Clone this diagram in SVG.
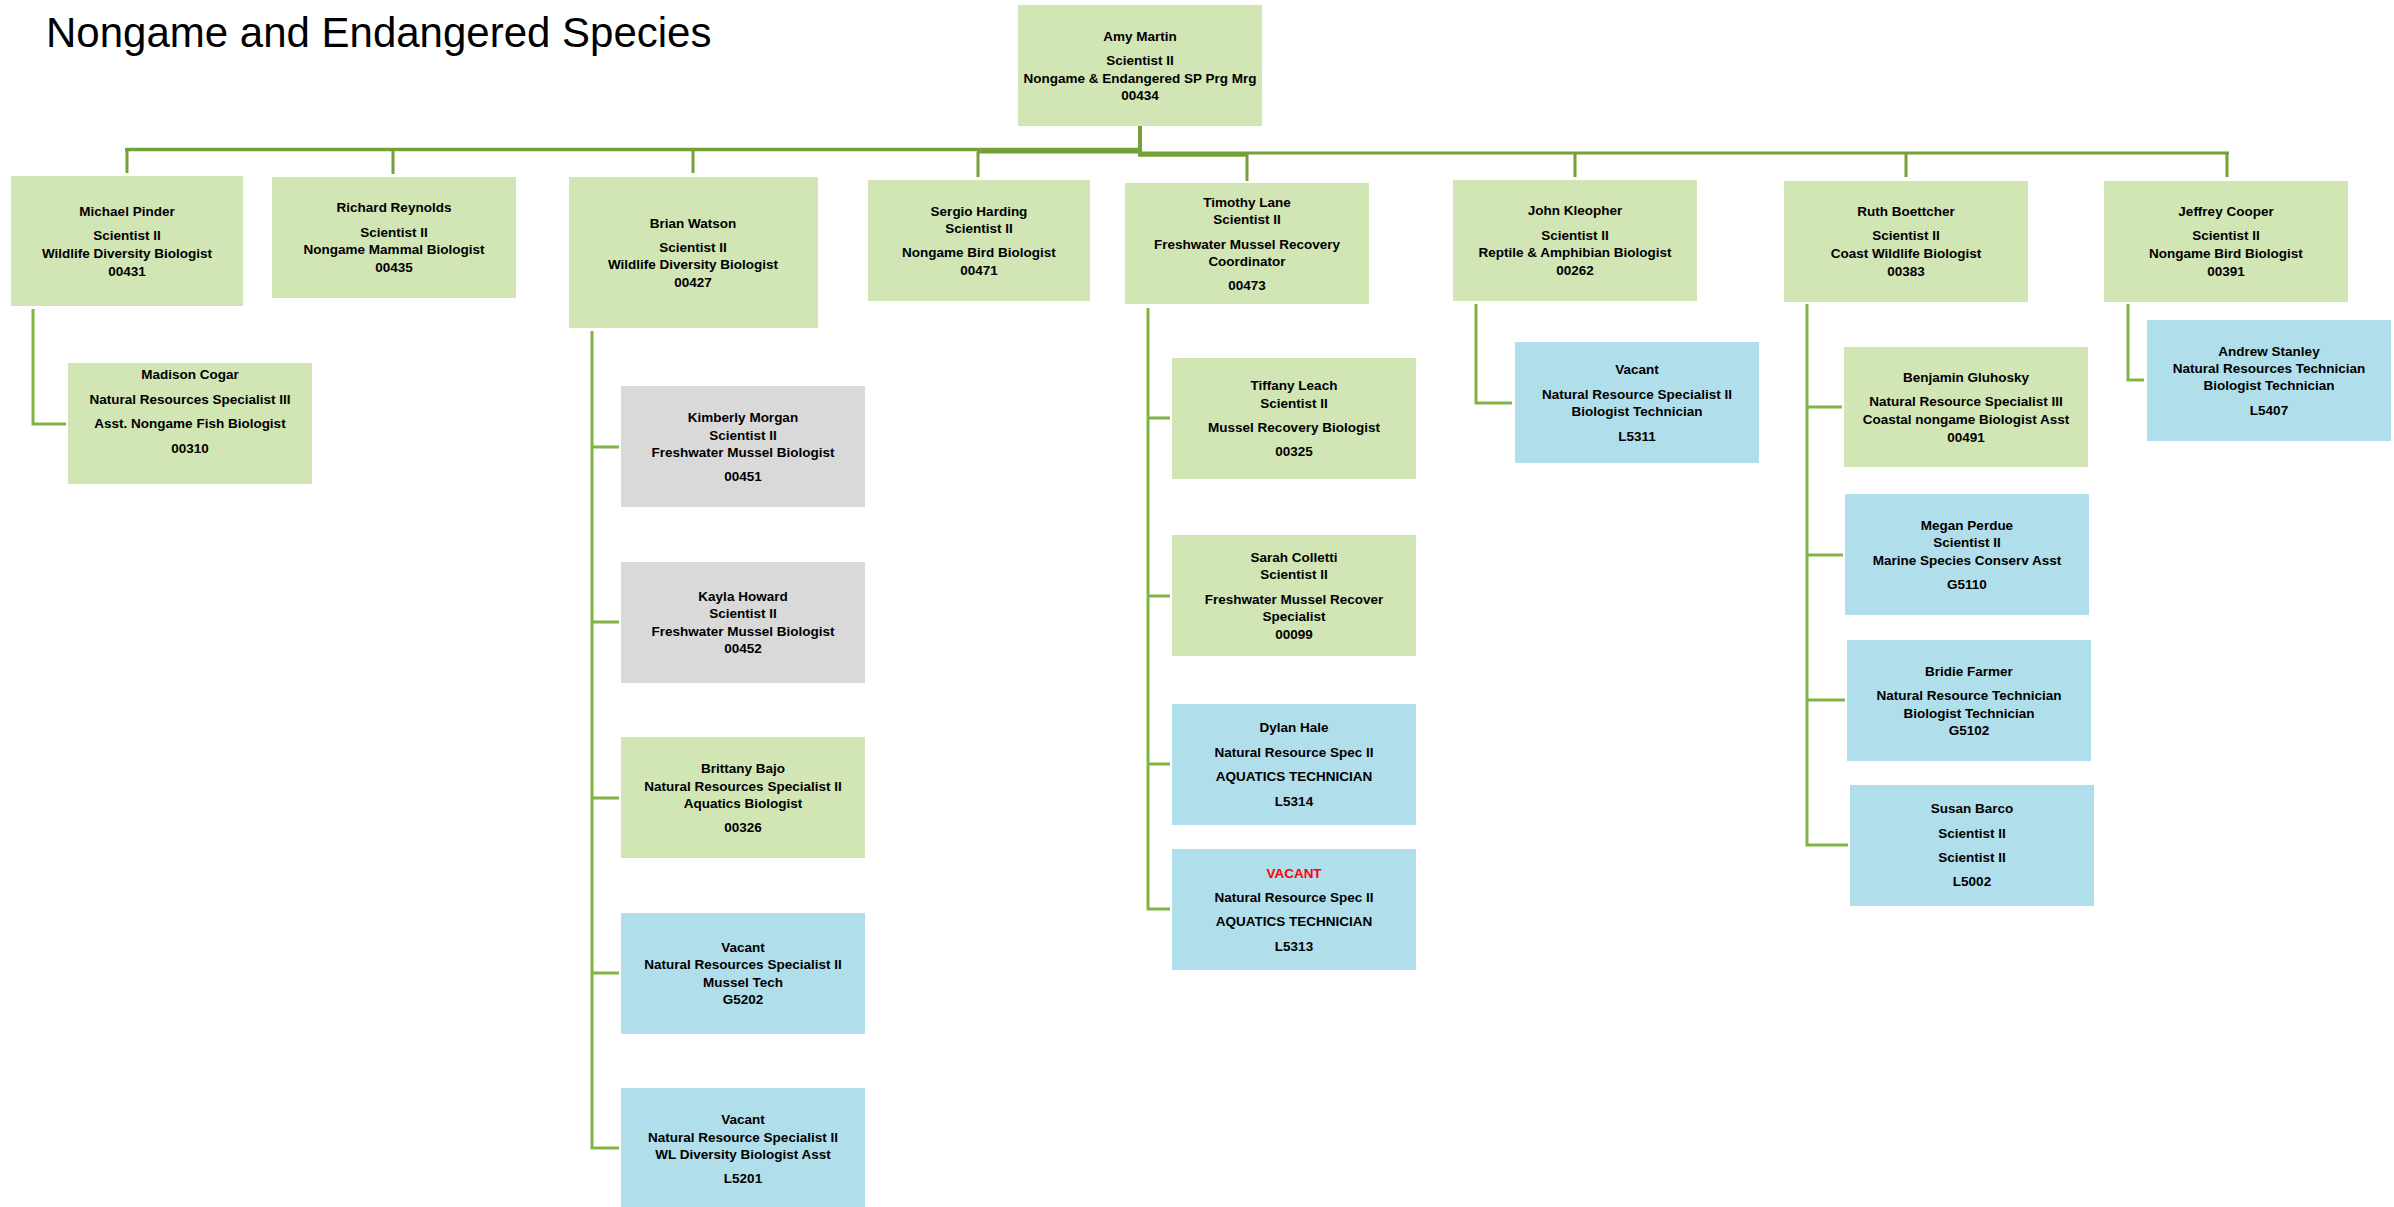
<svg xmlns="http://www.w3.org/2000/svg" width="2394" height="1207" viewBox="0 0 2394 1207">
<style>
.g{fill:#D2E5B5}
.b{fill:#B0DEEA}
.y{fill:#D9D9D9}
text{font-family:"Liberation Sans",Arial,sans-serif;font-weight:bold;font-size:13.5px;fill:#000;text-anchor:middle}
.title{font-weight:normal;font-size:42px;text-anchor:start}
.red{fill:#FF0000}
.bus{stroke:#74A037;fill:none}
.ch{stroke:#80B447;stroke-width:3;fill:none}
</style>
<rect width="2394" height="1207" fill="#FFFFFF"/>
<text class="title" x="46" y="47">Nongame and Endangered Species</text>

<g id="connectors">
<line class="bus" x1="1140" y1="126" x2="1140" y2="155" stroke-width="4"/>
<line class="bus" x1="125" y1="149.5" x2="1142" y2="149.5" stroke-width="3.5"/>
<line class="bus" x1="977" y1="152" x2="1140" y2="152" stroke-width="3"/>
<line class="bus" x1="1138" y1="154.5" x2="1248" y2="154.5" stroke-width="4.5"/>
<line class="bus" x1="1138" y1="153" x2="2229" y2="153" stroke-width="3"/>
<line class="bus" x1="127" y1="149" x2="127" y2="173" stroke-width="3"/>
<line class="bus" x1="393" y1="149" x2="393" y2="174" stroke-width="3"/>
<line class="bus" x1="693" y1="149" x2="693" y2="173" stroke-width="3"/>
<line class="bus" x1="978" y1="152" x2="978" y2="177" stroke-width="3"/>
<line class="bus" x1="1247" y1="154" x2="1247" y2="181" stroke-width="3"/>
<line class="bus" x1="1575" y1="153" x2="1575" y2="177" stroke-width="3"/>
<line class="bus" x1="1906" y1="153" x2="1906" y2="177" stroke-width="3"/>
<line class="bus" x1="2227" y1="153" x2="2227" y2="177" stroke-width="3"/>
<path class="ch" d="M33 309 V424 H66"/>
<path class="ch" d="M592 331 V1148 H619 M592 447 H619 M592 622 H619 M592 798 H619 M592 973 H619"/>
<path class="ch" d="M1148 308 V909 H1170 M1148 418 H1170 M1148 596 H1170 M1148 764 H1170"/>
<path class="ch" d="M1476 304 V403 H1512"/>
<path class="ch" d="M1807 304 V845 H1848 M1807 407 H1842 M1807 555 H1843 M1807 700 H1845"/>
<path class="ch" d="M2128 304 V380 H2144"/>
</g>

<g id="amy-martin"><rect class="g" x="1018" y="5" width="244" height="121"/>
<text x="1140" y="41">Amy Martin</text><text x="1140" y="65">Scientist II</text><text x="1140" y="83">Nongame &amp; Endangered SP Prg Mrg</text><text x="1140" y="100">00434</text></g>

<g id="michael-pinder"><rect class="g" x="11" y="176" width="232" height="130"/>
<text x="127" y="216">Michael Pinder</text><text x="127" y="240">Scientist II</text><text x="127" y="258">Wildlife Diversity Biologist</text><text x="127" y="276">00431</text></g>

<g id="richard-reynolds"><rect class="g" x="272" y="177" width="244" height="121"/>
<text x="394" y="212">Richard Reynolds</text><text x="394" y="237">Scientist II</text><text x="394" y="254">Nongame Mammal Biologist</text><text x="394" y="272">00435</text></g>

<g id="brian-watson"><rect class="g" x="569" y="177" width="249" height="151"/>
<text x="693" y="228">Brian Watson</text><text x="693" y="252">Scientist II</text><text x="693" y="269">Wildlife Diversity Biologist</text><text x="693" y="287">00427</text></g>

<g id="sergio-harding"><rect class="g" x="868" y="180" width="222" height="121"/>
<text x="979" y="216">Sergio Harding</text><text x="979" y="233">Scientist II</text><text x="979" y="257">Nongame Bird Biologist</text><text x="979" y="275">00471</text></g>

<g id="timothy-lane"><rect class="g" x="1125" y="183" width="244" height="121"/>
<text x="1247" y="207">Timothy Lane</text><text x="1247" y="224">Scientist II</text><text x="1247" y="249">Freshwater Mussel Recovery</text><text x="1247" y="266">Coordinator</text><text x="1247" y="290">00473</text></g>

<g id="john-kleopher"><rect class="g" x="1453" y="180" width="244" height="121"/>
<text x="1575" y="215">John Kleopher</text><text x="1575" y="240">Scientist II</text><text x="1575" y="257">Reptile &amp; Amphibian Biologist</text><text x="1575" y="275">00262</text></g>

<g id="ruth-boettcher"><rect class="g" x="1784" y="181" width="244" height="121"/>
<text x="1906" y="216">Ruth Boettcher</text><text x="1906" y="240">Scientist II</text><text x="1906" y="258">Coast Wildlife Biologist</text><text x="1906" y="276">00383</text></g>

<g id="jeffrey-cooper"><rect class="g" x="2104" y="181" width="244" height="121"/>
<text x="2226" y="216">Jeffrey Cooper</text><text x="2226" y="240">Scientist II</text><text x="2226" y="258">Nongame Bird Biologist</text><text x="2226" y="276">00391</text></g>

<g id="madison-cogar"><rect class="g" x="68" y="363" width="244" height="121"/>
<text x="190" y="379">Madison Cogar</text><text x="190" y="404">Natural Resources Specialist III</text><text x="190" y="428">Asst. Nongame Fish Biologist</text><text x="190" y="453">00310</text></g>

<g id="kimberly-morgan"><rect class="y" x="621" y="386" width="244" height="121"/>
<text x="743" y="422">Kimberly Morgan</text><text x="743" y="440">Scientist II</text><text x="743" y="457">Freshwater Mussel Biologist</text><text x="743" y="481">00451</text></g>

<g id="kayla-howard"><rect class="y" x="621" y="562" width="244" height="121"/>
<text x="743" y="601">Kayla Howard</text><text x="743" y="618">Scientist II</text><text x="743" y="636">Freshwater Mussel Biologist</text><text x="743" y="653">00452</text></g>

<g id="brittany-bajo"><rect class="g" x="621" y="737" width="244" height="121"/>
<text x="743" y="773">Brittany Bajo</text><text x="743" y="791">Natural Resources Specialist II</text><text x="743" y="808">Aquatics Biologist</text><text x="743" y="832">00326</text></g>

<g id="vacant-g5202"><rect class="b" x="621" y="913" width="244" height="121"/>
<text x="743" y="952">Vacant</text><text x="743" y="969">Natural Resources Specialist II</text><text x="743" y="987">Mussel Tech</text><text x="743" y="1004">G5202</text></g>

<g id="vacant-l5201"><rect class="b" x="621" y="1088" width="244" height="121"/>
<text x="743" y="1124">Vacant</text><text x="743" y="1142">Natural Resource Specialist II</text><text x="743" y="1159">WL Diversity Biologist Asst</text><text x="743" y="1183">L5201</text></g>

<g id="tiffany-leach"><rect class="g" x="1172" y="358" width="244" height="121"/>
<text x="1294" y="390">Tiffany Leach</text><text x="1294" y="408">Scientist II</text><text x="1294" y="432">Mussel Recovery Biologist</text><text x="1294" y="456">00325</text></g>

<g id="sarah-colletti"><rect class="g" x="1172" y="535" width="244" height="121"/>
<text x="1294" y="562">Sarah Colletti</text><text x="1294" y="579">Scientist II</text><text x="1294" y="604">Freshwater Mussel Recover</text><text x="1294" y="621">Specialist</text><text x="1294" y="639">00099</text></g>

<g id="dylan-hale"><rect class="b" x="1172" y="704" width="244" height="121"/>
<text x="1294" y="732">Dylan Hale</text><text x="1294" y="757">Natural Resource Spec II</text><text x="1294" y="781">AQUATICS TECHNICIAN</text><text x="1294" y="806">L5314</text></g>

<g id="vacant-l5313"><rect class="b" x="1172" y="849" width="244" height="121"/>
<text class="red" x="1294" y="878">VACANT</text><text x="1294" y="902">Natural Resource Spec II</text><text x="1294" y="926">AQUATICS TECHNICIAN</text><text x="1294" y="951">L5313</text></g>

<g id="vacant-l5311"><rect class="b" x="1515" y="342" width="244" height="121"/>
<text x="1637" y="374">Vacant</text><text x="1637" y="399">Natural Resource Specialist II</text><text x="1637" y="416">Biologist Technician</text><text x="1637" y="441">L5311</text></g>

<g id="benjamin-gluhosky"><rect class="g" x="1844" y="347" width="244" height="120"/>
<text x="1966" y="382">Benjamin Gluhosky</text><text x="1966" y="406">Natural Resource Specialist III</text><text x="1966" y="424">Coastal nongame Biologist Asst</text><text x="1966" y="442">00491</text></g>

<g id="megan-perdue"><rect class="b" x="1845" y="494" width="244" height="121"/>
<text x="1967" y="530">Megan Perdue</text><text x="1967" y="547">Scientist II</text><text x="1967" y="565">Marine Species Conserv Asst</text><text x="1967" y="589">G5110</text></g>

<g id="bridie-farmer"><rect class="b" x="1847" y="640" width="244" height="121"/>
<text x="1969" y="676">Bridie Farmer</text><text x="1969" y="700">Natural Resource Technician</text><text x="1969" y="718">Biologist Technician</text><text x="1969" y="735">G5102</text></g>

<g id="susan-barco"><rect class="b" x="1850" y="785" width="244" height="121"/>
<text x="1972" y="813">Susan Barco</text><text x="1972" y="838">Scientist II</text><text x="1972" y="862">Scientist II</text><text x="1972" y="886">L5002</text></g>

<g id="andrew-stanley"><rect class="b" x="2147" y="320" width="244" height="121"/>
<text x="2269" y="356">Andrew Stanley</text><text x="2269" y="373">Natural Resources Technician</text><text x="2269" y="390">Biologist Technician</text><text x="2269" y="415">L5407</text></g>
</svg>
